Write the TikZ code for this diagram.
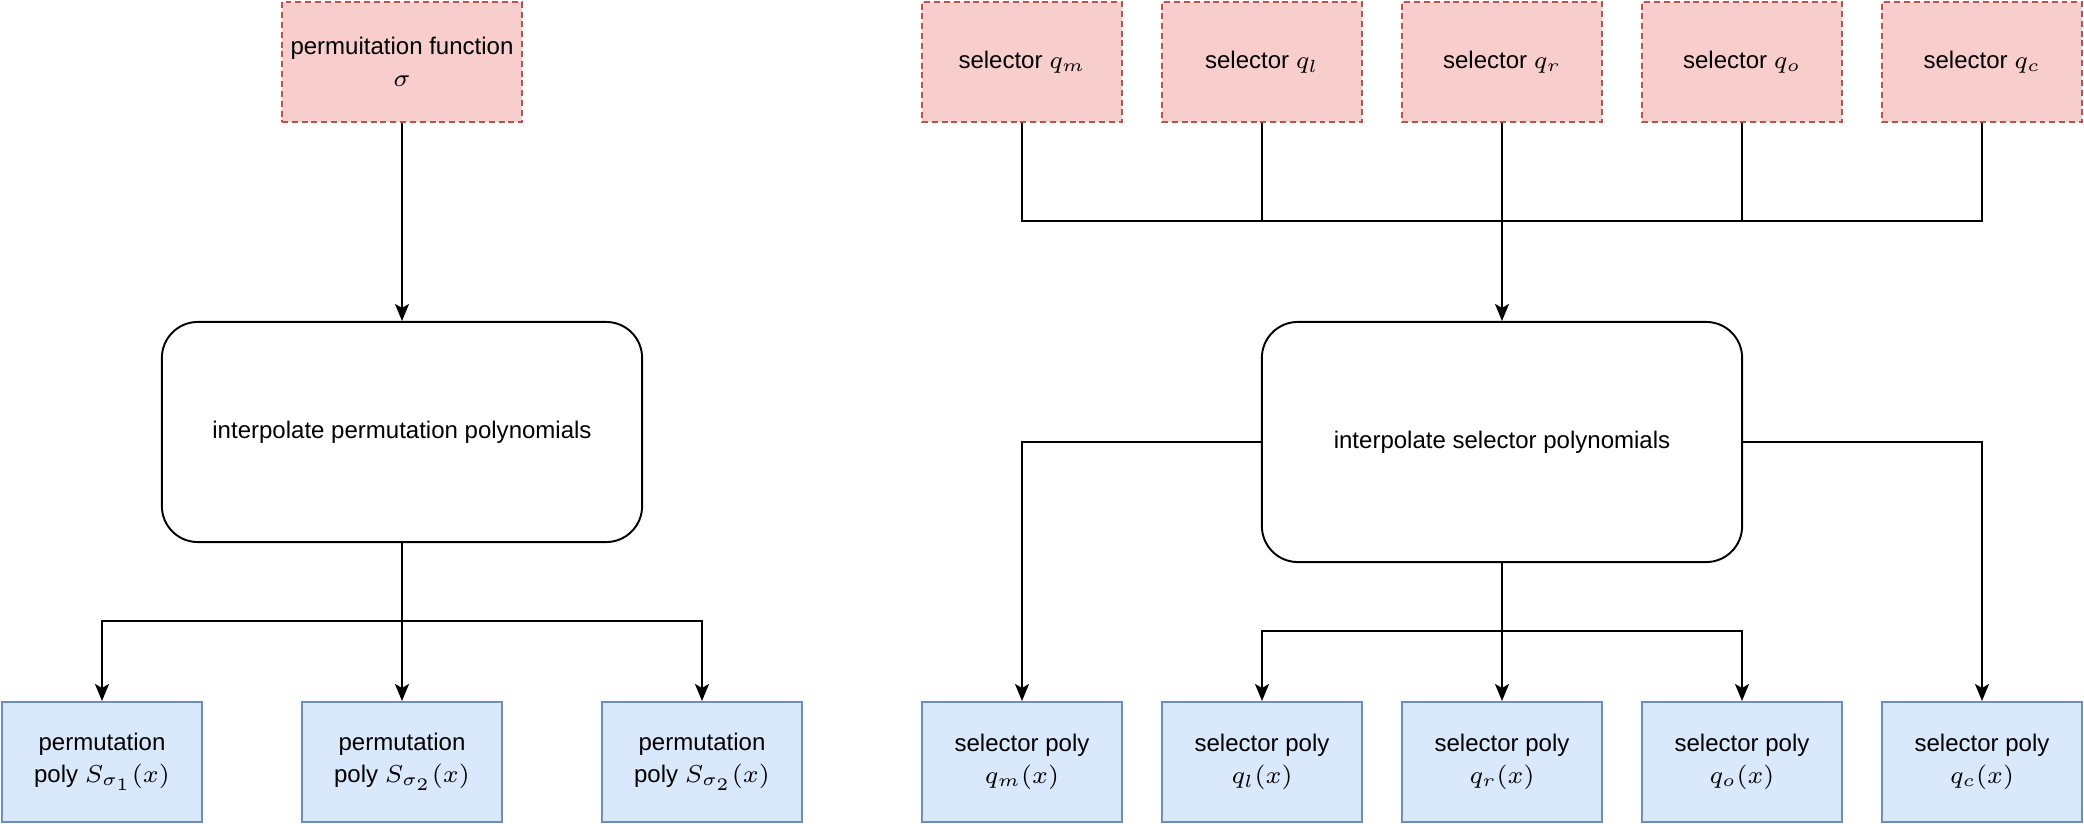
\documentclass[tikz,border=0pt]{standalone}
\usepackage{amsmath, amssymb}
\usepackage{fontspec}
\setmainfont{Liberation Sans}
\usetikzlibrary{arrows.meta}

\definecolor{inred}{HTML}{F8CECC}
\definecolor{inredline}{HTML}{B85450}
\definecolor{outblue}{HTML}{DAE8FC}
\definecolor{outblueline}{HTML}{6C8EBF}

\tikzset{
	inbox/.style={draw=inredline, fill=inred, dash pattern=on 1.7pt off 1.1pt, line width=0.55pt,
		minimum width=2cm, minimum height=1.2cm, align=center, inner sep=0pt},
	outbox/.style={draw=outblueline, fill=outblue, line width=0.55pt,
		minimum width=2cm, minimum height=1.2cm, align=center, inner sep=0pt},
	interbox/.style={draw, rounded corners=0.36cm, line width=0.55pt, align=center}
}

\begin{document}
\begin{tikzpicture}[x=0.01cm, y=0.01cm, ->, >={Stealth[length=0.17cm, width=0.14cm, inset=0.04cm]},
	line width=0.55pt, font=\fontsize{6.83}{9}\selectfont]

	\useasboundingbox (-2,2) rectangle (2082,-822);

	% permutation side
	\node[inbox, minimum width=2.4cm] (perm_fn) at (400,-60) {permuitation function\\$\sigma$};
	\node[interbox, minimum width=4.8cm, minimum height=2.2cm] (interp_perm) at (400,-430)
		{interpolate permutation polynomials};
	\path (perm_fn) edge (interp_perm);

	\coordinate (j_perm) at (400,-619);
	\draw[-] (interp_perm) -- (j_perm);
	\foreach \s/\x/\i in {0/100/1, 1/400/2, 2/700/2}
	{
		\node[outbox] (perm_\s) at (\x,-760) {permutation\\ poly $S_{\sigma_\i}(x)$};
		\draw (j_perm) -| (perm_\s);
	}

	% selector side
	\node[interbox, minimum width=4.8cm, minimum height=2.4cm] (interp_sel) at (1500,-440)
		{interpolate selector polynomials};
	\coordinate (j_top) at (1500,-219);
	\coordinate (j_sel) at (1500,-629);

	\foreach \n/\x in {m/1020, l/1260, r/1500, o/1740, c/1980}
	{
		\node[inbox] (sel_\n) at (\x,-60) {selector $q_\n$};
		\node[outbox] (poly_\n) at (\x,-760) {selector poly\\ $q_\n(x)$};
		\draw[-] (sel_\n) |- (j_top);
	}
	\draw (j_top) -- (interp_sel);

	% draw edges to polys
	\draw[-] (interp_sel) -- (j_sel);
	\foreach \n in {l,r,o}
	{
		\draw (j_sel) -| (poly_\n);
	}
	\draw (interp_sel.west) -| (poly_m);
	\draw (interp_sel.east) -| (poly_c);

\end{tikzpicture}
\end{document}
